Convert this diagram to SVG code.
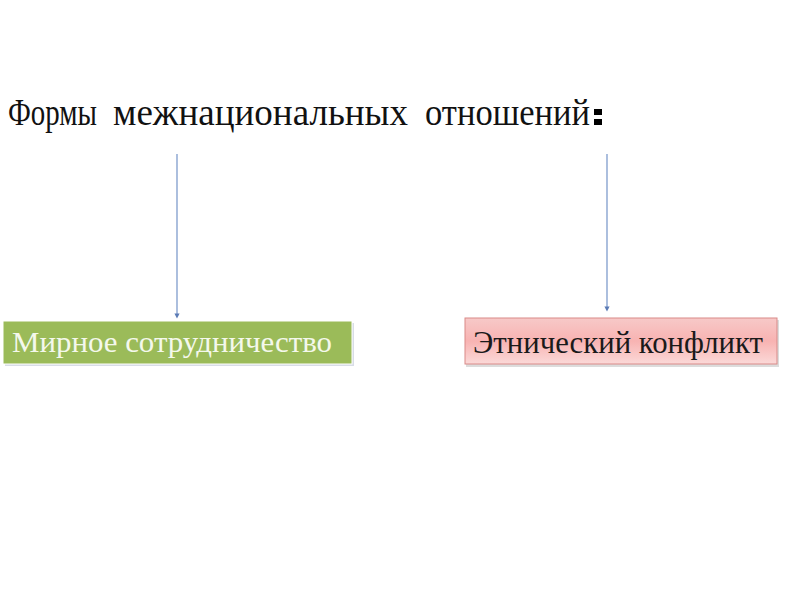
<svg xmlns="http://www.w3.org/2000/svg" width="800" height="600" viewBox="0 0 800 600">
<defs>
<style>
.serif{font-family:"Liberation Serif","Times New Roman",serif}
.conn{stroke:#7f9ccc;stroke-width:1.3;fill:none}
</style>
<linearGradient id="pink" x1="0" y1="0" x2="0" y2="1">
<stop offset="0" stop-color="#f7c9c8"/>
<stop offset="0.5" stop-color="#f8b3b2"/>
<stop offset="1" stop-color="#fbd9d8"/>
</linearGradient>
<marker id="arr" markerWidth="4" markerHeight="4" refX="2" refY="2" orient="auto">
<path d="M0,0 L4,2 L0,4 Z" fill="#5b7bb5"/>
</marker>
</defs>
<rect width="800" height="600" fill="#ffffff"/>
<g id="title" class="serif" font-size="37" fill="#111">
<text x="8" y="125" textLength="89" lengthAdjust="spacingAndGlyphs">Формы</text>
<text x="113" y="125" textLength="295" lengthAdjust="spacingAndGlyphs">межнациональных</text>
<text x="425" y="125" textLength="165" lengthAdjust="spacingAndGlyphs">отношений</text>
<rect x="594" y="109" width="8" height="6" fill="#000"/>
<rect x="594" y="119" width="8" height="6" fill="#000"/>
</g>
<g id="connectors">
<line class="conn" x1="177" y1="154" x2="177" y2="316" marker-end="url(#arr)"/>
<line class="conn" x1="607" y1="154" x2="607" y2="309" marker-end="url(#arr)"/>
</g>
<g id="node-peace">
<rect x="5" y="323" width="349" height="43" fill="#d8dde6"/>
<rect x="3" y="321" width="349" height="43" fill="#9bbb59" stroke="#ffffff" stroke-width="1"/>
<text class="serif" x="12" y="352" font-size="30" fill="#f4f8ec" textLength="320" lengthAdjust="spacingAndGlyphs">Мирное сотрудничество</text>
</g>
<g id="node-conflict">
<rect x="466" y="320" width="313" height="47" fill="#dcdcdc"/>
<rect x="465" y="318" width="312" height="46" fill="url(#pink)" stroke="#d98a88" stroke-width="1"/>
<text class="serif" x="473" y="353" font-size="32" fill="#1a1a1a" textLength="290" lengthAdjust="spacingAndGlyphs">Этнический конфликт</text>
</g>
</svg>
